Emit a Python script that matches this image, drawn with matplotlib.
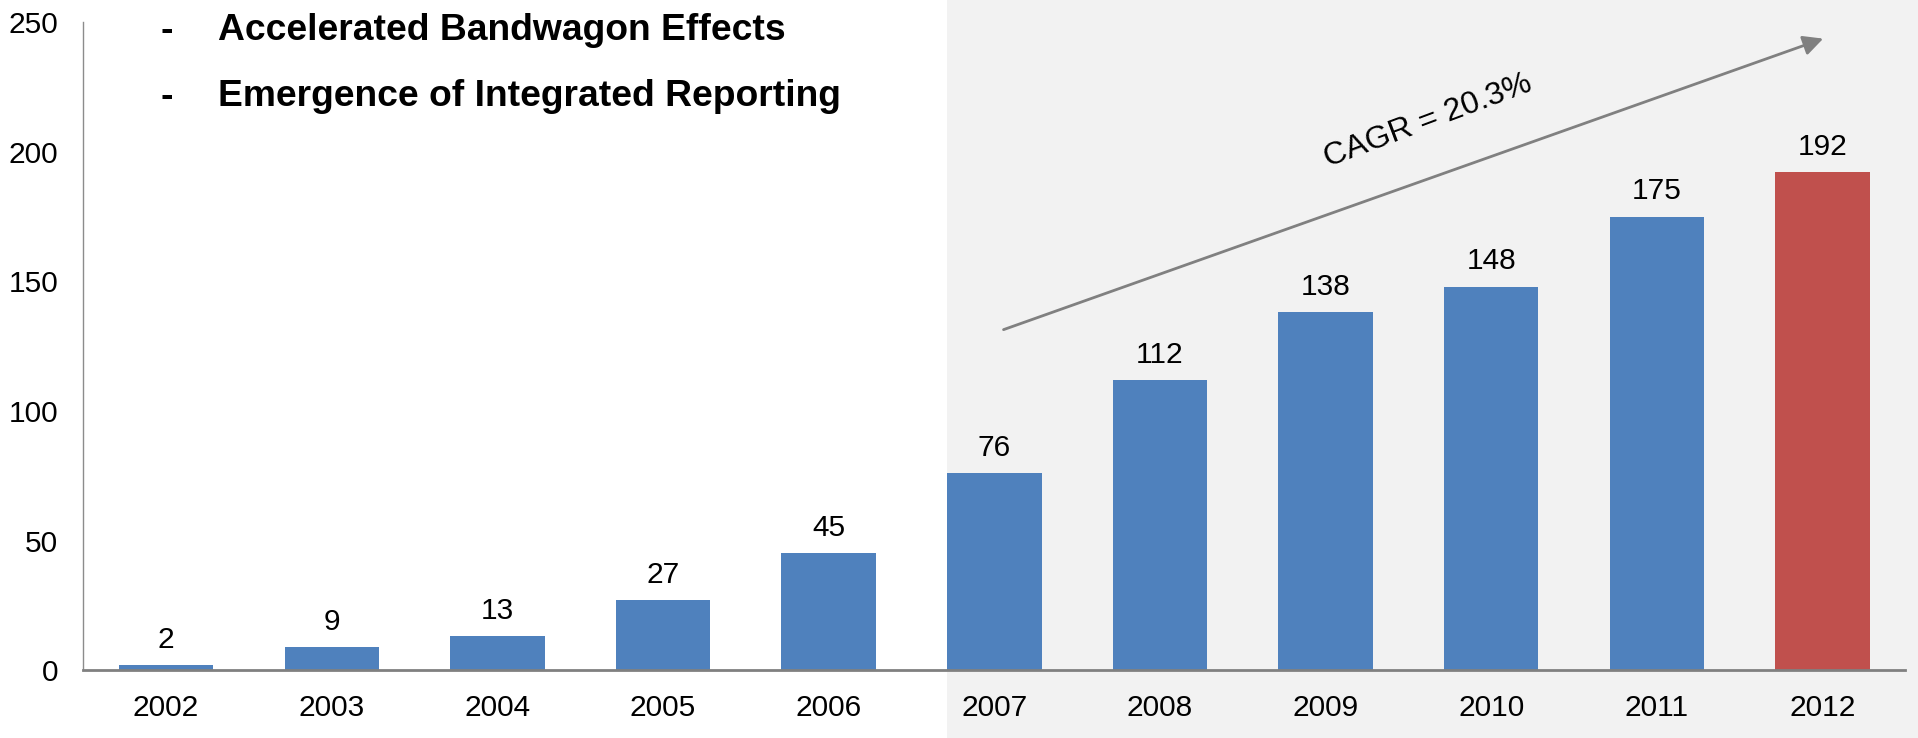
import matplotlib.pyplot as plt

# data
years = ['2002', '2003', '2004', '2005', '2006', '2007', '2008', '2009', '2010', '2011', '2012']
counts = [2, 9, 13, 27, 45, 76, 112, 138, 148, 175, 192]
highlight_year = '2012'
cagr_label = 'CAGR = 20.3%'
bullets = ['Accelerated Bandwagon Effects', 'Emergence of Integrated Reporting']

blue = '#4F81BD'
red = '#C0504D'
shade = '#F2F2F2'
num_font = ['Liberation Sans', 'DejaVu Sans']

fig = plt.figure(figsize=(19.18, 7.38), dpi=100)
ax = fig.add_axes([0.0434, 0.092, 0.950, 0.878])

bar_w = 0.57
x = list(range(len(years)))
colors = [red if y == highlight_year else blue for y in years]
bars = ax.bar(x, counts, width=bar_w, color=colors, zorder=2)

# grey panel behind the 2007+ period
ax.axvspan(years.index('2007') - bar_w / 2, len(years) + 1, ymin=-0.2, ymax=1.1,
           color=shade, clip_on=False, zorder=0, lw=0)

ax.bar_label(bars, labels=[str(c) for c in counts], padding=8,
             fontsize=21.5, family=num_font, color='black')

ax.set_xlim(-0.5, len(years) - 0.5)
ax.set_ylim(0, 250)
ax.set_yticks([0, 50, 100, 150, 200, 250])
ax.set_xticks(x)
ax.set_xticklabels(years)
for lab in ax.get_xticklabels() + ax.get_yticklabels():
    lab.set_family(num_font)
    lab.set_fontsize(21.5)
ax.tick_params(axis='both', length=0)
ax.tick_params(axis='x', pad=17)
ax.tick_params(axis='y', pad=18)

for s in ['top', 'right']:
    ax.spines[s].set_visible(False)
ax.spines['left'].set_color('#8C8C8C')
ax.spines['left'].set_linewidth(1)
ax.spines['bottom'].set_color('#808080')
ax.spines['bottom'].set_linewidth(2)
ax.spines['bottom'].set_zorder(3)
ax.patch.set_alpha(0)

# growth arrow + CAGR text
ax.annotate('', xy=(10.02, 244), xytext=(5.04, 131),
            arrowprops=dict(arrowstyle='-|>', color='#808080', lw=2, mutation_scale=30),
            annotation_clip=False)
ax.text(7.62, 212, cagr_label, rotation=20.5, ha='center', va='center',
        fontsize=23, family='Liberation Sans', color='black')

# bullet text at top left
for i, b in enumerate(bullets):
    yy = 0.946 - i * 0.089
    fig.text(0.0835, yy, '-', fontsize=26.8, fontweight='bold', family='Liberation Sans', va='baseline')
    fig.text(0.1137, yy, b, fontsize=26.8, fontweight='bold', family='Liberation Sans', va='baseline')

fig.savefig('out.png', dpi=100)
